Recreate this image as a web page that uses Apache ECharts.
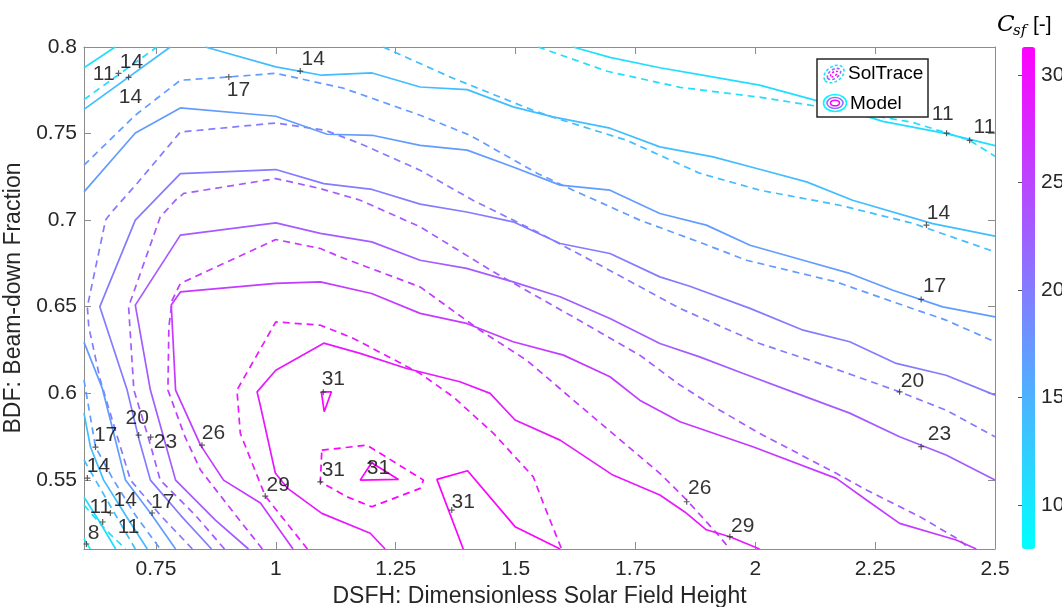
<!DOCTYPE html>
<html>
<head>
<meta charset="utf-8">
<script src="https://cdn.jsdelivr.net/npm/echarts@6/dist/echarts.min.js"></script>
<style>
html, body { margin: 0; padding: 0; background: #fff; }
#main { width: 1062px; height: 607px; }
</style>
</head>
<body>
<div id="main"></div>
<script>
// colour bar range and ticks
const cMin = 7.95, cMax = 31.3;
const cTicks = [10, 15, 20, 25, 30];
const xTicks = [0.75, 1, 1.25, 1.5, 1.75, 2, 2.25, 2.5];
const yTicks = [0.55, 0.6, 0.65, 0.7, 0.75, 0.8];

// Model contours (solid), pieces of [DSFH, BDF]
const model8 = [[[0.6, 0.516], [0.613, 0.51]]];
const model11 = [
    [[0.6, 0.788], [0.665, 0.8]],
    [[1.62, 0.8], [1.697, 0.794], [1.801, 0.788], [1.884, 0.784], [2.009, 0.778], [2.128, 0.769], [2.266, 0.757], [2.399, 0.75], [2.5, 0.743]],
    [[0.6, 0.54], [0.634, 0.525], [0.666, 0.51]]
];
const model14 = [
    [[0.6, 0.764], [0.78, 0.8]],
    [[0.853, 0.8], [1.0, 0.7885], [1.096, 0.7837], [1.201, 0.785], [1.301, 0.7769], [1.399, 0.7754], [1.495, 0.7654], [1.578, 0.7596], [1.697, 0.7531], [1.801, 0.7423], [1.912, 0.7365], [2.009, 0.7294], [2.107, 0.7221], [2.203, 0.7115], [2.37, 0.698], [2.5, 0.6907]],
    [[0.6, 0.5885], [0.6135, 0.5689], [0.641, 0.5498], [0.6865, 0.5296], [0.732, 0.51]]
];
const model17 = [
    [[0.6, 0.7163], [0.707, 0.7503], [0.801, 0.7648], [1.0, 0.76], [1.107, 0.7496], [1.201, 0.749], [1.301, 0.7432], [1.399, 0.7404], [1.495, 0.7307], [1.593, 0.7202], [1.697, 0.7173], [1.801, 0.7038], [1.898, 0.6971], [1.989, 0.6855], [2.1, 0.6768], [2.197, 0.6692], [2.287, 0.6595], [2.391, 0.6499], [2.5, 0.6441]],
    [[0.6, 0.6295], [0.638, 0.6029], [0.655, 0.5845], [0.6865, 0.5498], [0.7385, 0.5308], [0.791, 0.51]]
];
const model20 = [
    [[0.866, 0.51], [0.801, 0.5296], [0.7385, 0.5498], [0.7135, 0.5746], [0.69, 0.6018], [0.633, 0.65], [0.707, 0.7], [0.801, 0.7269], [1.0, 0.7292], [1.1, 0.7211], [1.201, 0.7177], [1.301, 0.7092], [1.398, 0.7047], [1.495, 0.699], [1.593, 0.6865], [1.697, 0.6807], [1.801, 0.6672], [1.8635, 0.6618], [1.989, 0.649], [2.1, 0.6364], [2.197, 0.6297], [2.294, 0.6172], [2.398, 0.6104], [2.5, 0.5989]]
];
const model23 = [
    [[0.943, 0.51], [0.874, 0.5267], [0.791, 0.5498], [0.766, 0.5746], [0.7385, 0.6018], [0.707, 0.6509], [0.801, 0.6913], [1.0, 0.6984], [1.093, 0.6923], [1.2, 0.6874], [1.301, 0.6768], [1.398, 0.6721], [1.495, 0.6643], [1.593, 0.6557], [1.697, 0.6432], [1.801, 0.6287], [1.884, 0.621], [1.975, 0.6114], [2.086, 0.5999], [2.197, 0.5885], [2.301, 0.5748], [2.398, 0.5643], [2.5, 0.5498]]
];
const model26 = [
    [[1.036, 0.51], [0.968, 0.5366], [0.891, 0.5498], [0.843, 0.57], [0.791, 0.6018], [0.782, 0.6509], [0.801, 0.6585], [1.0, 0.6634], [1.093, 0.6643], [1.2, 0.6576], [1.301, 0.6461], [1.398, 0.6403], [1.495, 0.6297], [1.6, 0.622], [1.697, 0.6095], [1.759, 0.596], [1.843, 0.5835], [1.995, 0.5691], [2.169, 0.5508], [2.232, 0.5383], [2.301, 0.5248], [2.419, 0.5152], [2.461, 0.51]]
];
const model29 = [
    [[1.228, 0.51], [1.197, 0.5191], [1.096, 0.5306], [1.024, 0.5452], [0.999, 0.5539], [0.968, 0.5926], [0.961, 0.6008], [1.0, 0.6133], [1.1, 0.6289], [1.176, 0.623], [1.273, 0.6143], [1.384, 0.6066], [1.447, 0.5999], [1.499, 0.5845], [1.593, 0.5729], [1.703, 0.5527], [1.801, 0.5412], [1.853, 0.5314], [1.898, 0.5211], [1.947, 0.5171], [2.009, 0.51]]
];
const model31 = [
    [[1.095, 0.6008], [1.116, 0.6008], [1.101, 0.5893], [1.095, 0.6008]],
    [[1.176, 0.5498], [1.2, 0.5598], [1.256, 0.5502], [1.176, 0.5498]],
    [[1.391, 0.51], [1.336, 0.5502], [1.4, 0.5552], [1.499, 0.5229], [1.593, 0.51]]
];

// SolTrace contours (dashed)
const sol11 = [
    [[0.6, 0.7696], [0.752, 0.8]],
    [[1.547, 0.8], [1.691, 0.786], [1.843, 0.7767], [2.009, 0.771], [2.128, 0.7658], [2.328, 0.7565], [2.447, 0.7461], [2.5, 0.7369]],
    [[0.6, 0.5354], [0.645, 0.5211], [0.687, 0.51]]
];
const sol14 = [
    [[1.224, 0.8], [1.37, 0.7819], [1.536, 0.7635], [1.578, 0.7594], [1.732, 0.7461], [1.884, 0.7271], [2.009, 0.7173], [2.176, 0.7086], [2.328, 0.6982], [2.5, 0.6816]],
    [[0.6, 0.5614], [0.624, 0.5498], [0.666, 0.5296], [0.707, 0.51]]
];
const sol17 = [
    [[0.6, 0.7317], [0.707, 0.7606], [0.801, 0.7808], [0.902, 0.7827], [1.0, 0.7848], [1.141, 0.7762], [1.301, 0.7606], [1.405, 0.749], [1.545, 0.7271], [1.62, 0.7173], [1.759, 0.7], [1.884, 0.6872], [1.982, 0.6768], [2.169, 0.6643], [2.287, 0.6528], [2.398, 0.6422], [2.5, 0.6297]],
    [[0.6, 0.6076], [0.624, 0.5689], [0.6615, 0.5498], [0.707, 0.5296], [0.759, 0.51]]
];
const sol20 = [
    [[0.826, 0.51], [0.759, 0.5296], [0.697, 0.5498], [0.659, 0.5845], [0.634, 0.6076], [0.61, 0.6383], [0.607, 0.65], [0.645, 0.7], [0.655, 0.7038], [0.711, 0.7213], [0.801, 0.7509], [1.0, 0.7561], [1.103, 0.7519], [1.176, 0.7442], [1.301, 0.7288], [1.411, 0.7115], [1.495, 0.7], [1.551, 0.6923], [1.676, 0.674], [1.843, 0.649], [2.009, 0.6287], [2.155, 0.6152], [2.301, 0.6008], [2.398, 0.5902], [2.5, 0.5748]]
];
const sol23 = [
    [[0.893, 0.51], [0.832, 0.5296], [0.759, 0.5498], [0.734, 0.5746], [0.704, 0.6018], [0.693, 0.65], [0.759, 0.7018], [0.791, 0.7115], [0.808, 0.7154], [1.0, 0.724], [1.093, 0.7182], [1.176, 0.7115], [1.301, 0.6961], [1.454, 0.6701], [1.62, 0.6441], [1.759, 0.622], [1.843, 0.6047], [1.926, 0.5902], [2.009, 0.5768], [2.169, 0.5537], [2.232, 0.5441], [2.343, 0.5287], [2.426, 0.5152], [2.447, 0.51]]
];
const sol26 = [
    [[0.972, 0.51], [0.916, 0.5296], [0.843, 0.5556], [0.811, 0.5746], [0.775, 0.6018], [0.777, 0.6383], [0.784, 0.6538], [0.801, 0.6634], [1.0, 0.6888], [1.093, 0.6836], [1.134, 0.6788], [1.301, 0.6614], [1.426, 0.6364], [1.523, 0.6191], [1.641, 0.5912], [1.711, 0.5748], [1.801, 0.5537], [1.857, 0.5383], [1.919, 0.5193], [1.947, 0.51]]
];
const sol29 = [
    [[1.066, 0.51], [0.978, 0.5406], [0.926, 0.5768], [0.919, 0.6018], [1.0, 0.6412], [1.093, 0.6393], [1.161, 0.6318], [1.301, 0.6114], [1.37, 0.5979], [1.454, 0.5768], [1.537, 0.5517], [1.558, 0.5364], [1.596, 0.51]]
];
const sol31 = [
    [[1.096, 0.5671], [1.19, 0.57], [1.308, 0.5498], [1.301, 0.545], [1.2, 0.5344], [1.148, 0.5402], [1.093, 0.5488], [1.096, 0.5671]]
];

// clabel texts [x, y, text] and their '+' marks
const contourLabels = [
    [0.641, 0.7842, '11'], [0.699, 0.7912, '14'], [0.697, 0.771, '14'], [1.078, 0.7929, '14'], [0.922, 0.775, '17'],
    [2.391, 0.7612, '11'], [2.478, 0.7537, '11'], [2.382, 0.704, '14'], [2.374, 0.6618, '17'], [2.328, 0.607, '20'],
    [2.384, 0.5764, '23'], [1.884, 0.5452, '26'], [1.974, 0.5233, '29'], [1.12, 0.6082, '31'], [1.12, 0.5556, '31'],
    [1.214, 0.5568, '31'], [1.391, 0.5371, '31'], [1.005, 0.5469, '29'], [0.87, 0.5771, '26'], [0.77, 0.5718, '23'],
    [0.711, 0.5856, '20'], [0.645, 0.5758, '17'], [0.63, 0.5579, '14'], [0.634, 0.5342, '11'], [0.686, 0.5383, '14'],
    [0.693, 0.5227, '11'], [0.62, 0.5193, '8'], [0.764, 0.5371, '17']
];
const plusMarks = [
    [0.672, 0.7848], [0.693, 0.7825], [1.051, 0.7861], [0.902, 0.7827], [2.399, 0.7502], [2.447, 0.7461],
    [2.357, 0.6971], [2.346, 0.6542], [2.301, 0.6008], [2.346, 0.5691], [1.857, 0.5373], [1.947, 0.5171],
    [1.099, 0.6006], [1.093, 0.5488], [1.197, 0.5596], [1.367, 0.5325], [0.978, 0.5406], [0.846, 0.57],
    [0.739, 0.5746], [0.714, 0.5758], [0.624, 0.5689], [0.607, 0.551], [0.655, 0.5308], [0.639, 0.5256],
    [0.605, 0.5129], [0.742, 0.5308]
];

const modelSets = [[8, model8], [11, model11], [14, model14], [17, model17], [20, model20], [23, model23], [26, model26], [29, model29], [31, model31]];
const solSets = [[11, sol11], [14, sol14], [17, sol17], [20, sol20], [23, sol23], [26, sol26], [29, sol29], [31, sol31]];

// matlab 'cool' colormap
let coolColor = function (v) {
    let t = (v - cMin) / (cMax - cMin);
    return 'rgb(' + Math.round(255 * t) + ',' + Math.round(255 * (1 - t)) + ',255)';
};

let chart = echarts.init(document.getElementById('main'));
let series = [];

let addLines = function (sets, dashed) {
    sets.forEach(function (s) {
        s[1].forEach(function (piece) {
            series.push({
                type: 'line',
                xAxisIndex: 0,
                yAxisIndex: 0,
                data: piece,
                symbol: 'none',
                silent: true,
                lineStyle: {color: coolColor(s[0]), width: 1.7, type: dashed ? [7, 5] : 'solid'},
                z: 2
            });
        });
    });
};
addLines(solSets, true);
addLines(modelSets, false);

series.push({
    type: 'scatter',
    xAxisIndex: 0,
    yAxisIndex: 0,
    data: plusMarks,
    symbol: 'path://M4,0H6V4H10V6H6V10H4V6H0V4H4Z',
    symbolSize: 6,
    itemStyle: {color: '#333'},
    silent: true,
    z: 3
});
series.push({
    type: 'scatter',
    xAxisIndex: 0,
    yAxisIndex: 0,
    data: contourLabels,
    symbolSize: 1,
    itemStyle: {color: 'rgba(0,0,0,0)'},
    label: {
        show: true,
        position: 'inside',
        formatter: function (p) { return p.value[2]; },
        fontSize: 21,
        color: '#000'
    },
    silent: true,
    z: 4
});

let axisGray = '#8c8c8c';
let textGray = '#262626';
let sans = 'Liberation Sans, Arial, sans-serif';
let serif = 'DejaVu Serif, Liberation Serif, serif';

let option = {
    animation: false,
    backgroundColor: '#fff',
    textStyle: {fontFamily: sans},
    grid: [
        {left: 84, top: 47, width: 911, height: 502, outerBoundsMode: 'none'},
        {left: 1022, top: 47, width: 13, height: 502, outerBoundsMode: 'none'}
    ],
    xAxis: [
        {
            gridIndex: 0, type: 'value', min: 0.6, max: 2.5, position: 'bottom',
            name: 'DSFH: Dimensionless Solar Field Height', nameLocation: 'middle', nameGap: 31,
            nameTextStyle: {fontSize: 23, color: textGray},
            axisLine: {lineStyle: {color: axisGray, width: 1}},
            axisTick: {inside: true, length: 7, customValues: xTicks, lineStyle: {color: axisGray}},
            axisLabel: {customValues: xTicks, fontSize: 21, color: textGray, margin: 10},
            splitLine: {show: false}
        },
        {
            gridIndex: 0, type: 'value', min: 0.6, max: 2.5, position: 'top',
            axisLine: {lineStyle: {color: axisGray, width: 1}},
            axisTick: {inside: true, length: 7, customValues: xTicks, lineStyle: {color: axisGray}},
            axisLabel: {show: false},
            splitLine: {show: false}
        },
        {gridIndex: 1, type: 'value', show: false}
    ],
    yAxis: [
        {
            gridIndex: 0, type: 'value', min: 0.51, max: 0.8, position: 'left',
            name: 'BDF: Beam-down Fraction', nameLocation: 'middle', nameGap: 41,
            nameTextStyle: {fontSize: 23, color: textGray},
            axisLine: {show: true, lineStyle: {color: axisGray, width: 1}},
            axisTick: {show: true, inside: true, length: 7, customValues: yTicks, lineStyle: {color: axisGray}},
            axisLabel: {customValues: yTicks, fontSize: 21, color: textGray, margin: 7},
            splitLine: {show: false}
        },
        {
            gridIndex: 0, type: 'value', min: 0.51, max: 0.8, position: 'right',
            axisLine: {show: true, lineStyle: {color: axisGray, width: 1}},
            axisTick: {show: true, inside: true, length: 7, customValues: yTicks, lineStyle: {color: axisGray}},
            axisLabel: {show: false},
            splitLine: {show: false}
        },
        {
            gridIndex: 1, type: 'value', min: cMin, max: cMax, position: 'right',
            axisLine: {show: false},
            axisTick: {show: true, inside: true, length: 4, customValues: cTicks, lineStyle: {color: '#555'}},
            axisLabel: {customValues: cTicks, fontSize: 21, color: textGray, margin: 6},
            splitLine: {show: false}
        }
    ],
    visualMap: {
        type: 'continuous',
        min: cMin,
        max: cMax,
        seriesIndex: [],
        calculable: false,
        orient: 'vertical',
        left: 1022,
        top: 47,
        padding: 0,
        itemWidth: 13,
        itemHeight: 502,
        inRange: {color: ['#00ffff', '#ff00ff']}
    },
    graphic: [
        {
            type: 'rect', z: 100,
            shape: {x: 817, y: 59, width: 111, height: 58},
            style: {fill: '#fff', stroke: '#262626', lineWidth: 1.5}
        },
        {type: 'ellipse', z: 101, x: 834, y: 74, rotation: 0.6, shape: {cx: 0, cy: 0, rx: 11, ry: 7.5}, style: {fill: null, stroke: coolColor(11), lineWidth: 1.6, lineDash: [3, 2]}},
        {type: 'ellipse', z: 101, x: 834, y: 74, rotation: 0.6, shape: {cx: 0, cy: 0, rx: 7.5, ry: 4.5}, style: {fill: null, stroke: coolColor(22), lineWidth: 1.6, lineDash: [3, 2]}},
        {type: 'ellipse', z: 101, x: 834, y: 74, rotation: 0.6, shape: {cx: 0, cy: 0, rx: 4, ry: 2}, style: {fill: null, stroke: coolColor(31), lineWidth: 1.6, lineDash: [2, 2]}},
        {type: 'ellipse', z: 101, shape: {cx: 835, cy: 103, rx: 11.5, ry: 8.5}, style: {fill: null, stroke: coolColor(9), lineWidth: 1.6}},
        {type: 'ellipse', z: 101, shape: {cx: 835, cy: 103, rx: 8, ry: 5.5}, style: {fill: null, stroke: coolColor(21), lineWidth: 1.6}},
        {type: 'ellipse', z: 101, shape: {cx: 835, cy: 103, rx: 4.5, ry: 2.8}, style: {fill: null, stroke: coolColor(31), lineWidth: 1.6}},
        {type: 'text', z: 101, x: 848, y: 74, style: {text: 'SolTrace', fontSize: 19, fill: '#000', verticalAlign: 'middle', fontFamily: sans}},
        {type: 'text', z: 101, x: 850, y: 104, style: {text: 'Model', fontSize: 19, fill: '#000', verticalAlign: 'middle', fontFamily: sans}},
        // colour bar title C_sf [-]
        {type: 'text', z: 101, x: 997, y: 25, style: {text: 'C', fontSize: 23, fontStyle: 'italic', fontFamily: serif, fill: '#000', verticalAlign: 'middle'}},
        {type: 'text', z: 101, x: 1013, y: 31, style: {text: 'sf', fontSize: 15, fontStyle: 'italic', fontFamily: serif, fill: '#000', verticalAlign: 'middle'}},
        {type: 'text', z: 101, x: 1033, y: 25, style: {text: '[-]', fontSize: 21, fontFamily: sans, fill: '#000', verticalAlign: 'middle'}}
    ],
    series: series
};
chart.setOption(option);
</script>
</body>
</html>
